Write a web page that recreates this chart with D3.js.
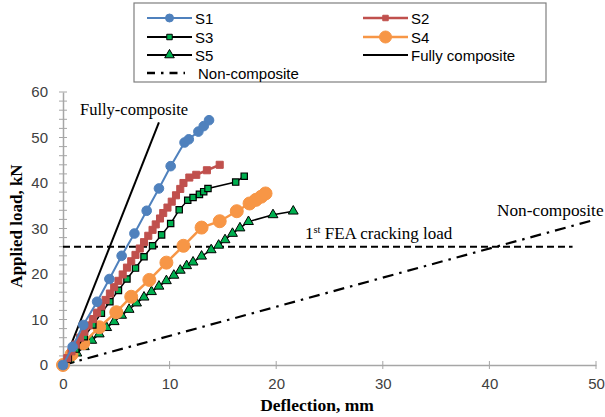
<!DOCTYPE html>
<html><head><meta charset="utf-8">
<script src="https://cdn.jsdelivr.net/npm/d3@7"></script>
<style>body{margin:0;background:#fff}svg{display:block}</style>
</head><body>
<svg id="c" width="605" height="417"></svg>
<script>
// ---- data (deflection mm, load kN) ----
const s1 = [[0,0],[0.9,4.0],[1.9,8.8],[3.2,13.9],[4.35,18.9],[5.5,24.0],[6.7,28.9],[7.85,33.9],[9.0,38.8],[10.1,43.7],[11.4,48.9],[11.8,49.6],[12.7,51.3],[13.2,52.5],[13.7,53.8]];
const s2 = [[0,0],[0.4,1.5],[0.8,3.0],[1.2,4.5],[1.6,6.0],[2.0,7.3],[2.4,8.7],[2.8,10.1],[3.2,11.5],[3.6,12.9],[4.0,14.3],[4.4,15.7],[4.8,17.1],[5.2,18.5],[5.6,19.9],[6.0,21.4],[6.4,22.8],[6.8,24.2],[7.2,25.6],[7.6,27.0],[8.0,28.4],[8.4,29.7],[8.7,30.9],[9.1,32.2],[9.4,33.4],[9.8,34.6],[10.2,35.9],[10.6,37.3],[11.0,38.7],[11.3,40.0],[11.85,41.2],[12.5,41.8],[13.5,42.8],[14.7,44.0]];
const s3 = [[0,0],[0.5,1.3],[1.2,3.5],[2.0,6.2],[2.8,8.8],[3.6,11.4],[4.4,13.9],[5.2,16.4],[6.0,18.9],[6.8,21.3],[7.6,23.8],[8.4,26.2],[9.25,28.6],[10.1,31.1],[10.9,34.1],[11.7,36.2],[12.2,36.8],[12.8,37.5],[13.2,38.1],[13.6,38.8],[16.2,40.2],[17.0,41.5]];
const s4 = [[0,0],[0.8,2.3],[1.9,4.8],[3.4,8.3],[5.0,11.6],[6.4,15.0],[8.1,18.7],[9.7,22.5],[11.3,26.2],[13.0,30.2],[14.7,31.6],[16.3,33.8],[17.5,35.5],[18.1,36.3],[18.6,37.0],[19.0,37.7]];
const s5 = [[0,0],[0.6,1.2],[1.3,2.6],[2.0,4.0],[2.7,5.4],[3.4,6.8],[4.1,8.2],[4.8,9.5],[5.5,10.9],[6.2,12.2],[6.9,13.6],[7.6,14.9],[8.3,16.1],[9.0,17.3],[9.7,18.5],[10.4,19.7],[11.0,20.8],[11.6,21.8],[12.2,22.6],[13.0,23.9],[13.9,25.3],[14.6,26.3],[15.2,27.5],[15.9,28.9],[16.6,30.1],[17.4,31.5],[19.7,33.0],[21.6,33.8]];
const fullyComposite = [[0,0],[9.0,53.3]];
const nonComposite = [[0,0],[50,32]];
const crackingLoad = [[0,26],[47.8,26]];
const xTicks = [0,10,20,30,40,50];
const yTicks = [0,10,20,30,40,50,60];
const legendLabels = ["S1","S2","S3","S4","S5","Fully composite","Non-composite"];

const svg = d3.select("#c");
const x = d3.scaleLinear().domain([0,50]).range([63,596]);
const y = d3.scaleLinear().domain([0,60]).range([365,92]);
const axisGray = "#a6a6a6";
const tickFont = "'Liberation Sans', Arial, sans-serif";
const serif = "'Liberation Serif', 'Times New Roman', serif";

// axes
const gx = svg.append("g").attr("transform","translate(0,365)")
  .call(d3.axisBottom(x).tickValues(xTicks).tickSize(0).tickPadding(13));
gx.select(".domain").attr("stroke",axisGray).attr("stroke-width",1.5);
gx.selectAll("text").attr("font-family",tickFont).attr("font-size",15).attr("fill","#404040");
svg.append("g").selectAll("line").data(xTicks.slice(1)).join("line")
  .attr("x1",d=>x(d)).attr("x2",d=>x(d)).attr("y1",361).attr("y2",369)
  .attr("stroke",axisGray).attr("stroke-width",1);

const gy = svg.append("g").attr("transform","translate(63,0)")
  .call(d3.axisLeft(y).tickValues(yTicks).tickSize(0).tickPadding(15));
gy.select(".domain").attr("stroke",axisGray).attr("stroke-width",1.5);
gy.selectAll("text").attr("font-family",tickFont).attr("font-size",15).attr("fill","#404040");
svg.append("g").selectAll("line").data(d3.range(0,61,2)).join("line")
  .attr("x1",59).attr("x2",67).attr("y1",d=>y(d)).attr("y2",d=>y(d))
  .attr("stroke",axisGray).attr("stroke-width",1);

// axis titles
svg.append("text").attr("x",317).attr("y",411).attr("text-anchor","middle")
  .attr("font-family",serif).attr("font-weight","bold").attr("font-size",17.5).text("Deflection, mm");
svg.append("text").attr("transform","translate(22,226) rotate(-90)").attr("text-anchor","middle")
  .attr("font-family",serif).attr("font-weight","bold").attr("font-size",17).text("Applied load, kN");

const line = d3.line().x(d=>x(d[0])).y(d=>y(d[1]));

// reference lines
svg.append("path").datum(nonComposite).attr("d",line).attr("fill","none")
  .attr("stroke","#000").attr("stroke-width",2.2).attr("stroke-dasharray","11,6,2.5,6");
svg.append("path").datum(crackingLoad).attr("d",line).attr("fill","none")
  .attr("stroke","#000").attr("stroke-width",2).attr("stroke-dasharray","7,4");
svg.append("path").datum(fullyComposite).attr("d",line).attr("fill","none")
  .attr("stroke","#000").attr("stroke-width",2);

// annotations
svg.append("text").attr("x",80).attr("y",115).attr("font-family",serif).attr("font-size",16.5).text("Fully-composite");
const ct = svg.append("text").attr("x",305).attr("y",239).attr("font-family",serif).attr("font-size",17);
ct.append("tspan").text("1");
ct.append("tspan").attr("font-size",10.5).attr("dy",-6).text("st");
ct.append("tspan").attr("dy",6).text(" FEA cracking load");
svg.append("text").attr("x",497).attr("y",216).attr("font-family",serif).attr("font-size",17.3).text("Non-composite");

// series
const blue="#4F81BD", red="#C0504D", green="#00B050", orange="#F79646";
const sq = d3.symbol().type(d3.symbolSquare);
const tri = d3.symbol().type(d3.symbolTriangle);

// S5
{
  const g = svg.append("g");
  g.append("path").datum(s5).attr("d",line).attr("fill","none").attr("stroke","#000").attr("stroke-width",1.5);
  g.selectAll("path.m").data(s5).join("path").attr("class","m")
    .attr("d",tri.size(42)()).attr("transform",d=>`translate(${x(d[0])},${y(d[1])})`)
    .attr("fill",green).attr("stroke","#000").attr("stroke-width",1);
}
// S4
{
  const g = svg.append("g");
  g.append("path").datum(s4).attr("d",line).attr("fill","none").attr("stroke",orange).attr("stroke-width",2.5);
  g.selectAll("circle").data(s4).join("circle").attr("cx",d=>x(d[0])).attr("cy",d=>y(d[1])).attr("r",6.5)
    .attr("fill",orange).attr("stroke",orange);
}
// S3
{
  const g = svg.append("g");
  g.append("path").datum(s3).attr("d",line).attr("fill","none").attr("stroke","#000").attr("stroke-width",1.5);
  g.selectAll("path.m").data(s3).join("path").attr("class","m")
    .attr("d",sq.size(40)()).attr("transform",d=>`translate(${x(d[0])},${y(d[1])})`)
    .attr("fill",green).attr("stroke","#000").attr("stroke-width",1.2);
}
// S2
{
  const g = svg.append("g");
  g.append("path").datum(s2).attr("d",line).attr("fill","none").attr("stroke",red).attr("stroke-width",2.5);
  g.selectAll("path.m").data(s2).join("path").attr("class","m")
    .attr("d",sq.size(50)()).attr("transform",d=>`translate(${x(d[0])},${y(d[1])})`)
    .attr("fill",red).attr("stroke",red);
}
// S1
{
  const g = svg.append("g");
  g.append("path").datum(s1).attr("d",line).attr("fill","none").attr("stroke",blue).attr("stroke-width",2);
  g.selectAll("circle").data(s1).join("circle").attr("cx",d=>x(d[0])).attr("cy",d=>y(d[1])).attr("r",4.8)
    .attr("fill",blue).attr("stroke",blue);
}

// legend
const lg = svg.append("g");
lg.append("rect").attr("x",134).attr("y",3).attr("width",412).attr("height",79)
  .attr("fill","#fff").attr("stroke","#7f7f7f").attr("stroke-width",1.2);
const legendItems = [
  {label:legendLabels[0], col:0,row:0, color:blue, lw:2, m:"circle", mc:blue, ms:blue, r:4},
  {label:legendLabels[1], col:1,row:0, color:red, lw:2.5, m:"square", mc:red, ms:red, s:30},
  {label:legendLabels[2], col:0,row:1, color:"#000", lw:2, m:"square", mc:green, ms:"#000", s:30},
  {label:legendLabels[3], col:1,row:1, color:orange, lw:2.5, m:"circle", mc:orange, ms:orange, r:6},
  {label:legendLabels[4], col:0,row:2, color:"#000", lw:2, m:"triangle", mc:green, ms:"#000", s:40},
  {label:legendLabels[5], col:1,row:2, color:"#000", lw:2, m:null},
  {label:legendLabels[6], col:0,row:3, color:"#000", lw:2.5, m:null, dash:"8,6,2.5,6"}
];
const colX = [147, 363], rowY = [18, 37, 55, 73];
legendItems.forEach(it=>{
  const x0 = colX[it.col], yy = rowY[it.row];
  const len = it.dash ? 38 : 45;
  lg.append("line").attr("x1",x0).attr("x2",x0+len).attr("y1",yy).attr("y2",yy)
    .attr("stroke",it.color).attr("stroke-width",it.lw).attr("stroke-dasharray",it.dash||null);
  const cx = x0+22.5;
  if(it.m==="circle") lg.append("circle").attr("cx",cx).attr("cy",yy).attr("r",it.r).attr("fill",it.mc).attr("stroke",it.ms);
  else if(it.m==="square") lg.append("path").attr("d",sq.size(it.s)()).attr("transform",`translate(${cx},${yy})`).attr("fill",it.mc).attr("stroke",it.ms);
  else if(it.m==="triangle") lg.append("path").attr("d",tri.size(it.s)()).attr("transform",`translate(${cx},${yy})`).attr("fill",it.mc).attr("stroke",it.ms);
  lg.append("text").attr("x", it.dash ? x0+51 : x0+48).attr("y",yy+5.5)
    .attr("font-family",tickFont).attr("font-size",15).attr("fill","#000").text(it.label);
});
</script>
</body></html>
